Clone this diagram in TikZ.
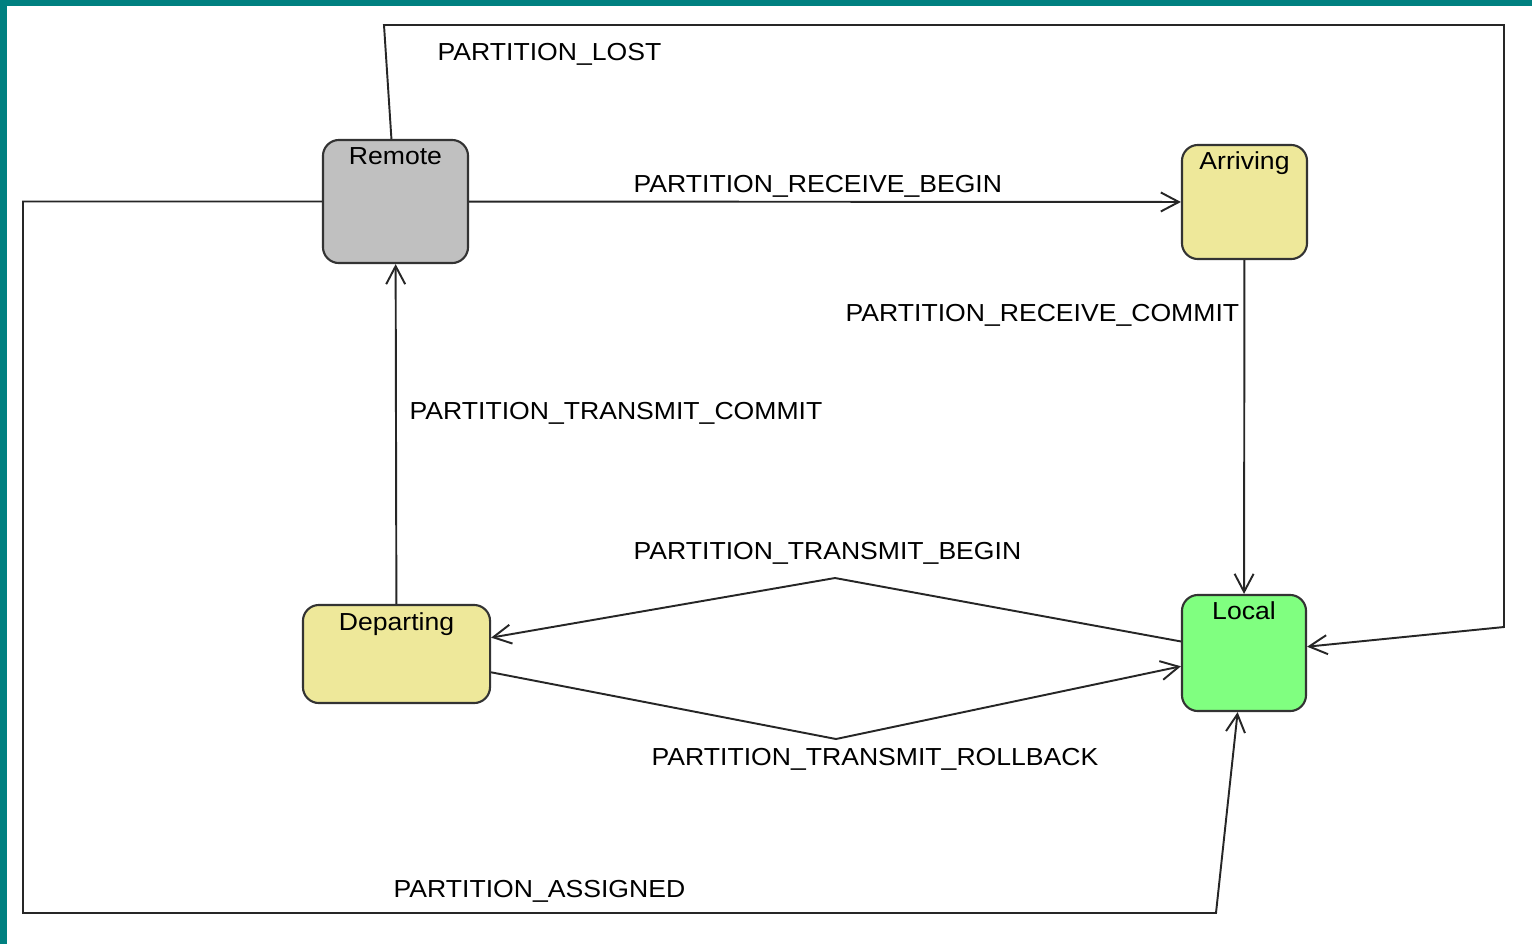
\documentclass[tikz,border=0pt]{standalone}
\usepackage{fontspec}
\newfontfamily\diagfont[FakeStretch=1.08]{Liberation Sans}
\usepackage{tikz}
\usetikzlibrary{arrows.meta}
\definecolor{frameteal}{HTML}{008080}
\definecolor{remotegray}{HTML}{C0C0C0}
\definecolor{transkhaki}{HTML}{EEE89A}
\definecolor{localgreen}{HTML}{80FF80}

\begin{document}
\begin{tikzpicture}[
  x=0.01cm, y=-0.01cm,
  state/.style={draw=black!80, line width=0.6pt, rounded corners=1.6mm, inner sep=0pt,
                text height=2.5mm, font=\diagfont\fontsize{7}{8}\selectfont},
  trans/.style={anchor=base west, inner sep=0pt, font=\diagfont\fontsize{7}{8}\selectfont},
  flow/.style={-{Straight Barb[length=1.8mm,width=1.9mm]}, line width=0.55pt, black!85}
]
\useasboundingbox (0,0) rectangle (1532,944);
\fill[frameteal] (0,0) rectangle (1532,6);
\fill[frameteal] (0,0) rectangle (7,944);

\node[state, fill=remotegray, minimum width=1.45cm, text depth=9.8mm] (remote) at (395.5,201.5) {Remote};
\node[state, fill=transkhaki, minimum width=1.25cm, text depth=8.9mm] (arriving) at (1244.5,202) {Arriving};
\node[state, fill=localgreen, minimum width=1.24cm, text depth=9.1mm] (local) at (1244,653) {Local};
\node[state, fill=transkhaki, minimum width=1.87cm, text depth=7.3mm] (departing) at (396.5,654) {Departing};

\node[trans] (lost) at (437,60.5) {PARTITION\_LOST};
\node[trans] (rbegin) at (633,192) {PARTITION\_RECEIVE\_BEGIN};
\node[trans] (rcommit) at (845,321.5) {PARTITION\_RECEIVE\_COMMIT};
\node[trans] (tcommit) at (409,419.5) {PARTITION\_TRANSMIT\_COMMIT};
\node[trans] (tbegin) at (633,559.5) {PARTITION\_TRANSMIT\_BEGIN};
\node[trans] (troll) at (651,765.5) {PARTITION\_TRANSMIT\_ROLLBACK};
\node[trans] (assigned) at (393,897.5) {PARTITION\_ASSIGNED};

\coordinate (tbtop) at (835,578);
\coordinate (trbot) at (836,739);
\coordinate (asl) at (23,913);
\coordinate (asr) at (1216,913);
\coordinate (ltop) at (384,25);
\coordinate (lr) at (1504,25);
\coordinate (lrb) at (1504,627);

\draw[flow] (remote) -- (arriving);
\draw[flow] (arriving) -- (local);
\draw[flow] (departing) -- (remote);
\draw[flow] (local) -- (tbtop) -- (departing);
\draw[flow] (departing) -- (trbot) -- (local);
\draw[flow] (remote.west) -| (asl) -- (asr) -- (local);
\draw[flow] (remote) -- (ltop) -- (lr) -- (lrb) -- (local);
\end{tikzpicture}
\end{document}
